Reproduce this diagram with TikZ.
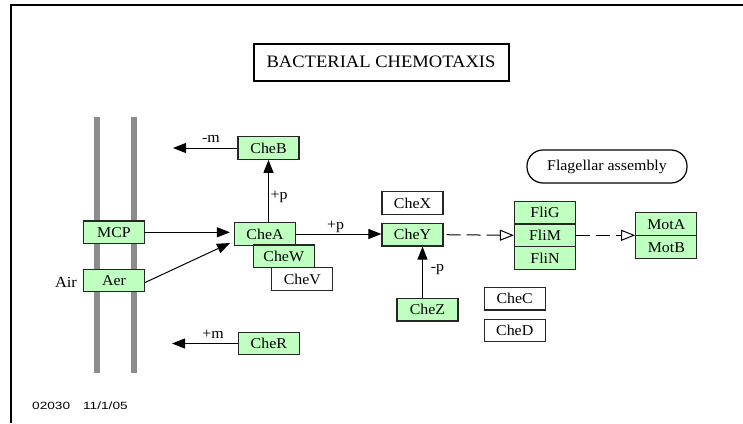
\documentclass[tikz,border=0pt]{standalone}
\usepackage{fontspec}
\setmainfont[FakeStretch=1.06]{Liberation Serif}
\newfontfamily\stampfont[FakeStretch=1.3]{Liberation Sans}
\usetikzlibrary{arrows.meta}
\definecolor{genefill}{HTML}{BFFFBF}
\definecolor{membrane}{HTML}{8C8C8C}

\begin{document}
\begin{tikzpicture}[x=1pt,y=-1pt,
  gene/.style={draw=black!85, line width=1.2pt, fill=genefill,
    minimum width=61pt, minimum height=22.5pt, inner sep=0pt,
    font=\fontsize{15}{17}\selectfont},
  other/.style={gene, fill=white},
  lbl/.style={inner sep=0pt, font=\fontsize{15}{17}\selectfont},
  act/.style={line width=1pt, -{Triangle[length=13pt,width=10pt]}},
  indir/.style={line width=1pt, dash pattern=on 14pt off 6pt,
    -{Triangle[open,length=14pt,width=11pt]}}
]
\useasboundingbox (0,0) rectangle (743,423);

% frame
\draw[line width=1.5pt] (11,423) -- (11,5) -- (743,5);

% title
\node[draw, line width=2pt, minimum width=255pt, minimum height=37pt,
  inner sep=0pt, font=\fontsize{17.5}{20}\selectfont] (title) at (381,62)
  {BACTERIAL CHEMOTAXIS};

% membrane
\draw[membrane, line width=6pt] (97.3,117) -- (97.3,373);
\draw[membrane, line width=6pt] (134.3,117) -- (134.3,373);

% receptors
\node[gene] (MCP) at (114,232.3) {MCP};
\node[gene] (Aer) at (114,280.5) {Aer};
\node[lbl, font=\fontsize{15.5}{17}\selectfont] (air) at (66,282) {Air};

% kinase complex
\node[gene] (CheA) at (265,234) {CheA};
\node[gene] (CheW) at (283.7,256.3) {CheW};
\node[other] (CheV) at (302.3,279) {CheV};

% methylation
\node[gene] (CheB) at (268.5,148) {CheB};
\node[gene] (CheR) at (268.8,343.5) {CheR};

% response regulator
\node[other] (CheX) at (412.5,203) {CheX};
\node[gene] (CheY) at (412.5,234.7) {CheY};
\node[gene] (CheZ) at (427.5,309.7) {CheZ};
\node[other] (CheC) at (514.7,298.8) {CheC};
\node[other] (CheD) at (514.7,330.5) {CheD};

% motor
\node[gene] (FliG) at (545,212.5) {FliG};
\node[gene] (FliM) at (545,235.3) {FliM};
\node[gene] (FliN) at (545,258) {FliN};
\node[gene, minimum height=23pt] (MotA) at (666.3,224.2) {MotA};
\node[gene, minimum height=23pt] (MotB) at (666.3,247.2) {MotB};

\node[draw, line width=1.2pt, rounded corners=16pt, minimum width=160pt,
  minimum height=33pt, inner sep=0pt, font=\fontsize{15}{17}\selectfont]
  (flag) at (607,166.5) {Flagellar assembly};

% connectors
\coordinate (demeth) at (173,148);
\coordinate (meth) at (172,343.5);
\coordinate (aerhit) at (230,243);

\draw[act] (CheB.west) -- (demeth);
\node[lbl] (mminus) at (211,139) {-m};
\draw[act] (CheR.west) -- (meth);
\node[lbl] (mplus) at (213,334) {+m};

\draw[act] (CheA.north -| CheB.south) -- (CheB.south);
\node[lbl] (pB) at (279,197) {+p};

\draw[act, shorten >=4pt] (MCP.east) -- (MCP.east -| CheA.west);
\draw[act] ([yshift=-2pt]Aer.east) -- (aerhit);

\draw[act] (CheA.east) -- (CheA.east -| CheY.west);
\node[lbl] (pY) at (335.5,227) {+p};

\draw[act] ([xshift=-5pt]CheZ.north) -- ([xshift=-5pt]CheZ.north |- CheY.south);
\node[lbl] (pZ) at (437.5,270) {-p};

\draw[indir, shorten <=3pt] (CheY.east) -- (FliM.west);
\draw[indir] (FliM.east) -- (FliM.east -| MotA.west);

% map stamp
\node[anchor=west, inner sep=0pt, font=\stampfont\fontsize{10.5}{12}\selectfont]
  (stamp) at (32,406) {02030\hspace{13pt}11/1/05};
\end{tikzpicture}
\end{document}
